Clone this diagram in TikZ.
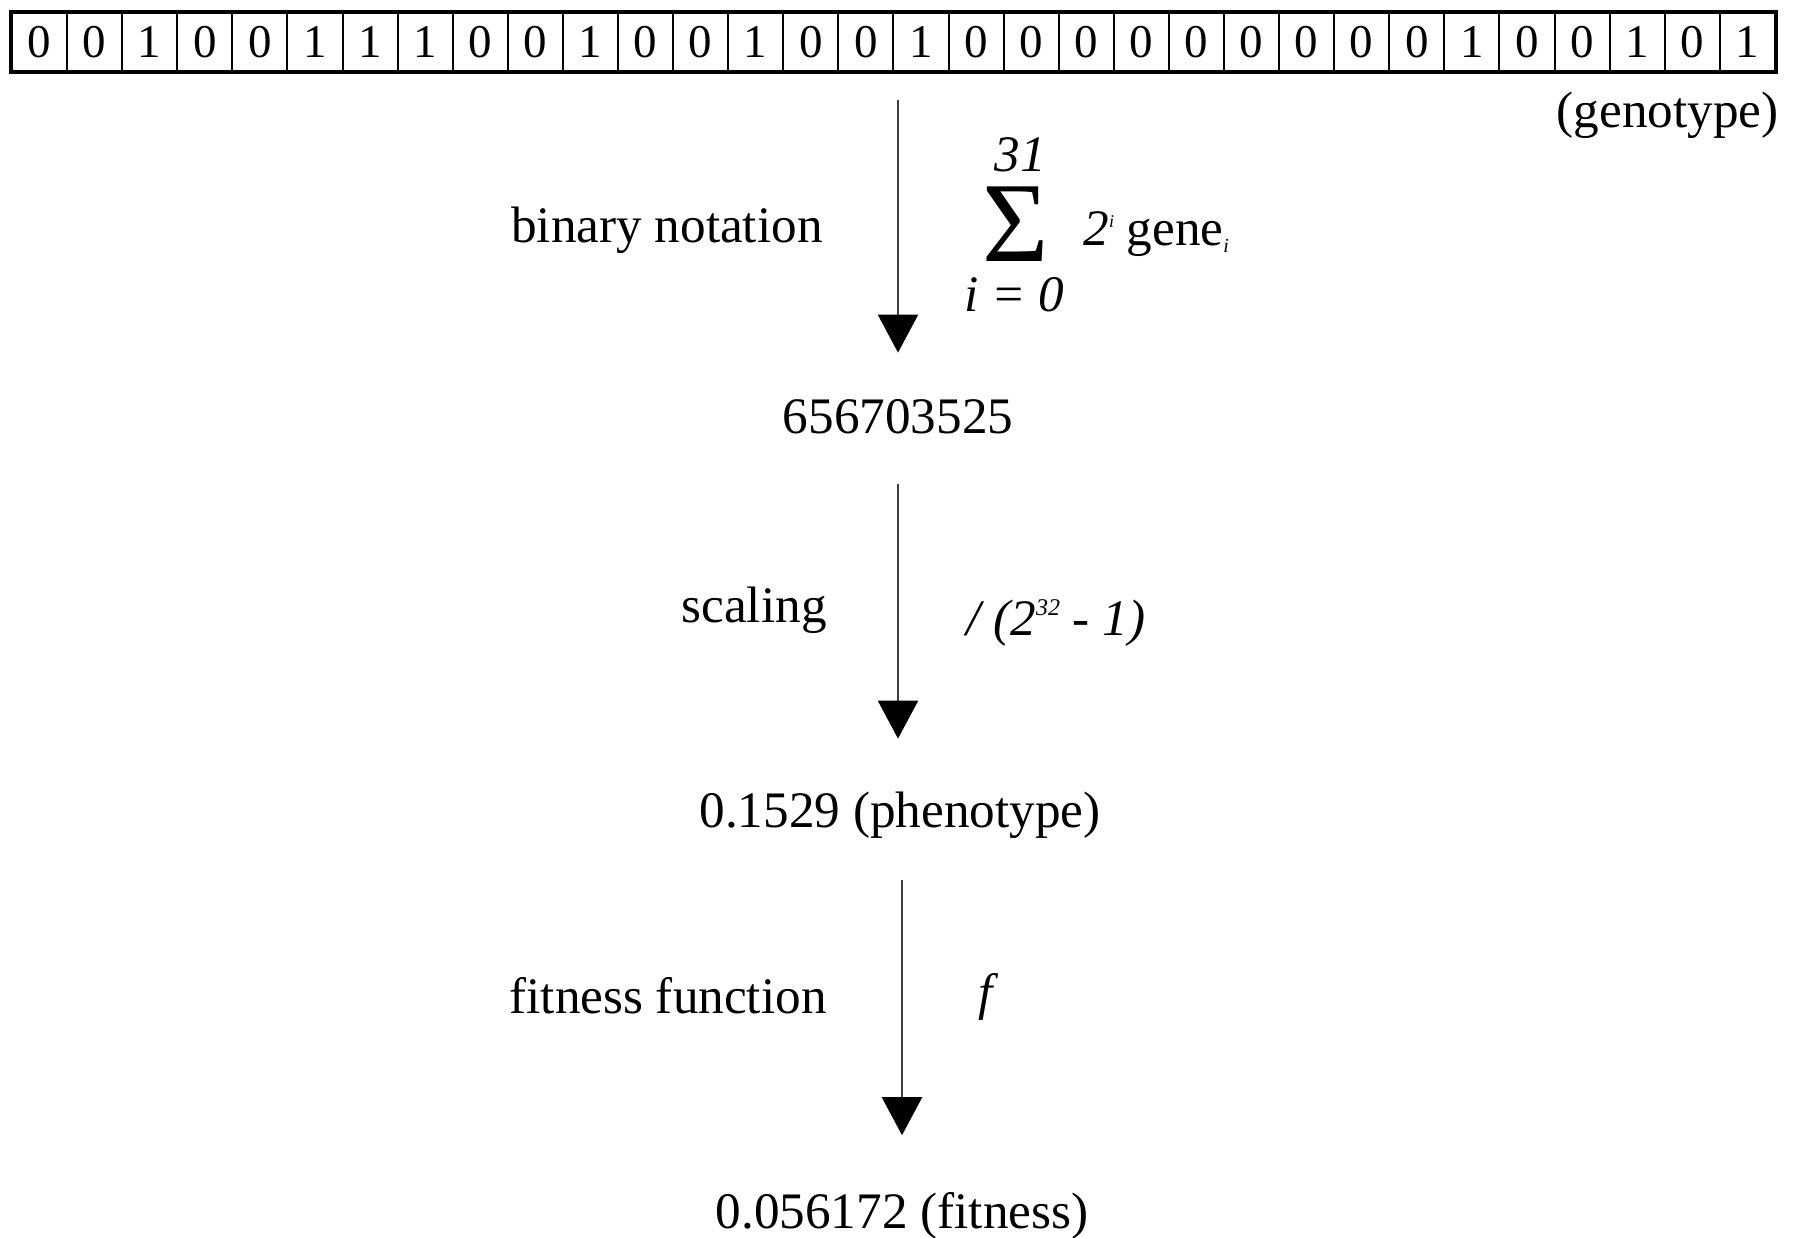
\documentclass[tikz,border=0pt]{standalone}
\usepackage{fontspec}
\setmainfont{Liberation Serif}
\usetikzlibrary{arrows.meta}
\tikzset{
  txt/.style={inner sep=0pt, anchor=base, text height=18pt, text depth=6pt, font=\fontsize{25.6}{30}\selectfont},
  frm/.style={inner sep=0pt, anchor=base, font=\fontsize{25.6}{30}\selectfont\itshape},
  cell/.style={draw, line width=1pt, inner sep=0pt, minimum width=27.55pt, minimum height=29pt, font=\fontsize{23.5}{26}\selectfont},
  flow/.style={draw=black!75, line width=1.2pt, -{Triangle[width=20pt,length=19pt,color=black]}}
}
\begin{document}
\begin{tikzpicture}[x=0.5pt,y=-0.5pt]
\useasboundingbox (0,0) rectangle (1797,1237);
% genotype bit row
\foreach \b [count=\i] in {0,0,1,0,0,1,1,1,0,0,1,0,0,1,0,0,1,0,0,0,0,0,0,0,0,0,1,0,0,1,0,1}
  \node[cell] (b\i) at ({12+55.09*(\i-0.5)},42) {\b};
\draw[line width=1.6pt] (b1.north west) rectangle (b32.south east);
\node[txt, anchor=base east] (geno) at (1779,127) {(genotype)};

% values
\node[txt] (n1) at (898,433) {656703525};
\node[txt] (n2) at (900,827) {0.1529 (phenotype)};
\node[txt] (n3) at (902,1228) {0.056172 (fitness)};

% step labels
\node[txt, anchor=base east] (l1) at (823,242) {binary notation};
\node[txt, anchor=base east] (l2) at (827,622) {scaling};
\node[txt, anchor=base east] (l3) at (827,1013) {fitness function};

% formulas
\node[inner sep=0pt, font=\fontsize{57}{57}\selectfont] (sig) at (1016,224) {Σ};
\node[frm] (sup) at (1020,171) {31};
\node[frm] (sub) at (1014,311) {i = 0};
\node[inner sep=0pt, anchor=base west, font=\fontsize{25.6}{30}\selectfont] (sumterm) at (1083,245)
  {{\itshape 2\raisebox{0.75ex}{\fontsize{9}{9}\selectfont i}} gene\raisebox{-0.3ex}{\fontsize{10}{10}\selectfont\itshape i}};
\node[frm, anchor=base west] (scal) at (966,635)
  {/ (2\raisebox{0.85ex}{\fontsize{12}{12}\selectfont 32} - 1)};
\node[frm] (fn) at (986,1009) {f};

% connectors
\draw[flow, shorten <=14pt, shorten >=22pt] (n1 |- b16.south) -- (n1.north);
\draw[flow, shorten <=19.3pt, shorten >=26pt] (n1.south) -- (n1 |- n2.north);
\draw[flow, shorten <=20.5pt, shorten >=28.2pt] (n3 |- n2.south) -- (n3.north);
\end{tikzpicture}
\end{document}
